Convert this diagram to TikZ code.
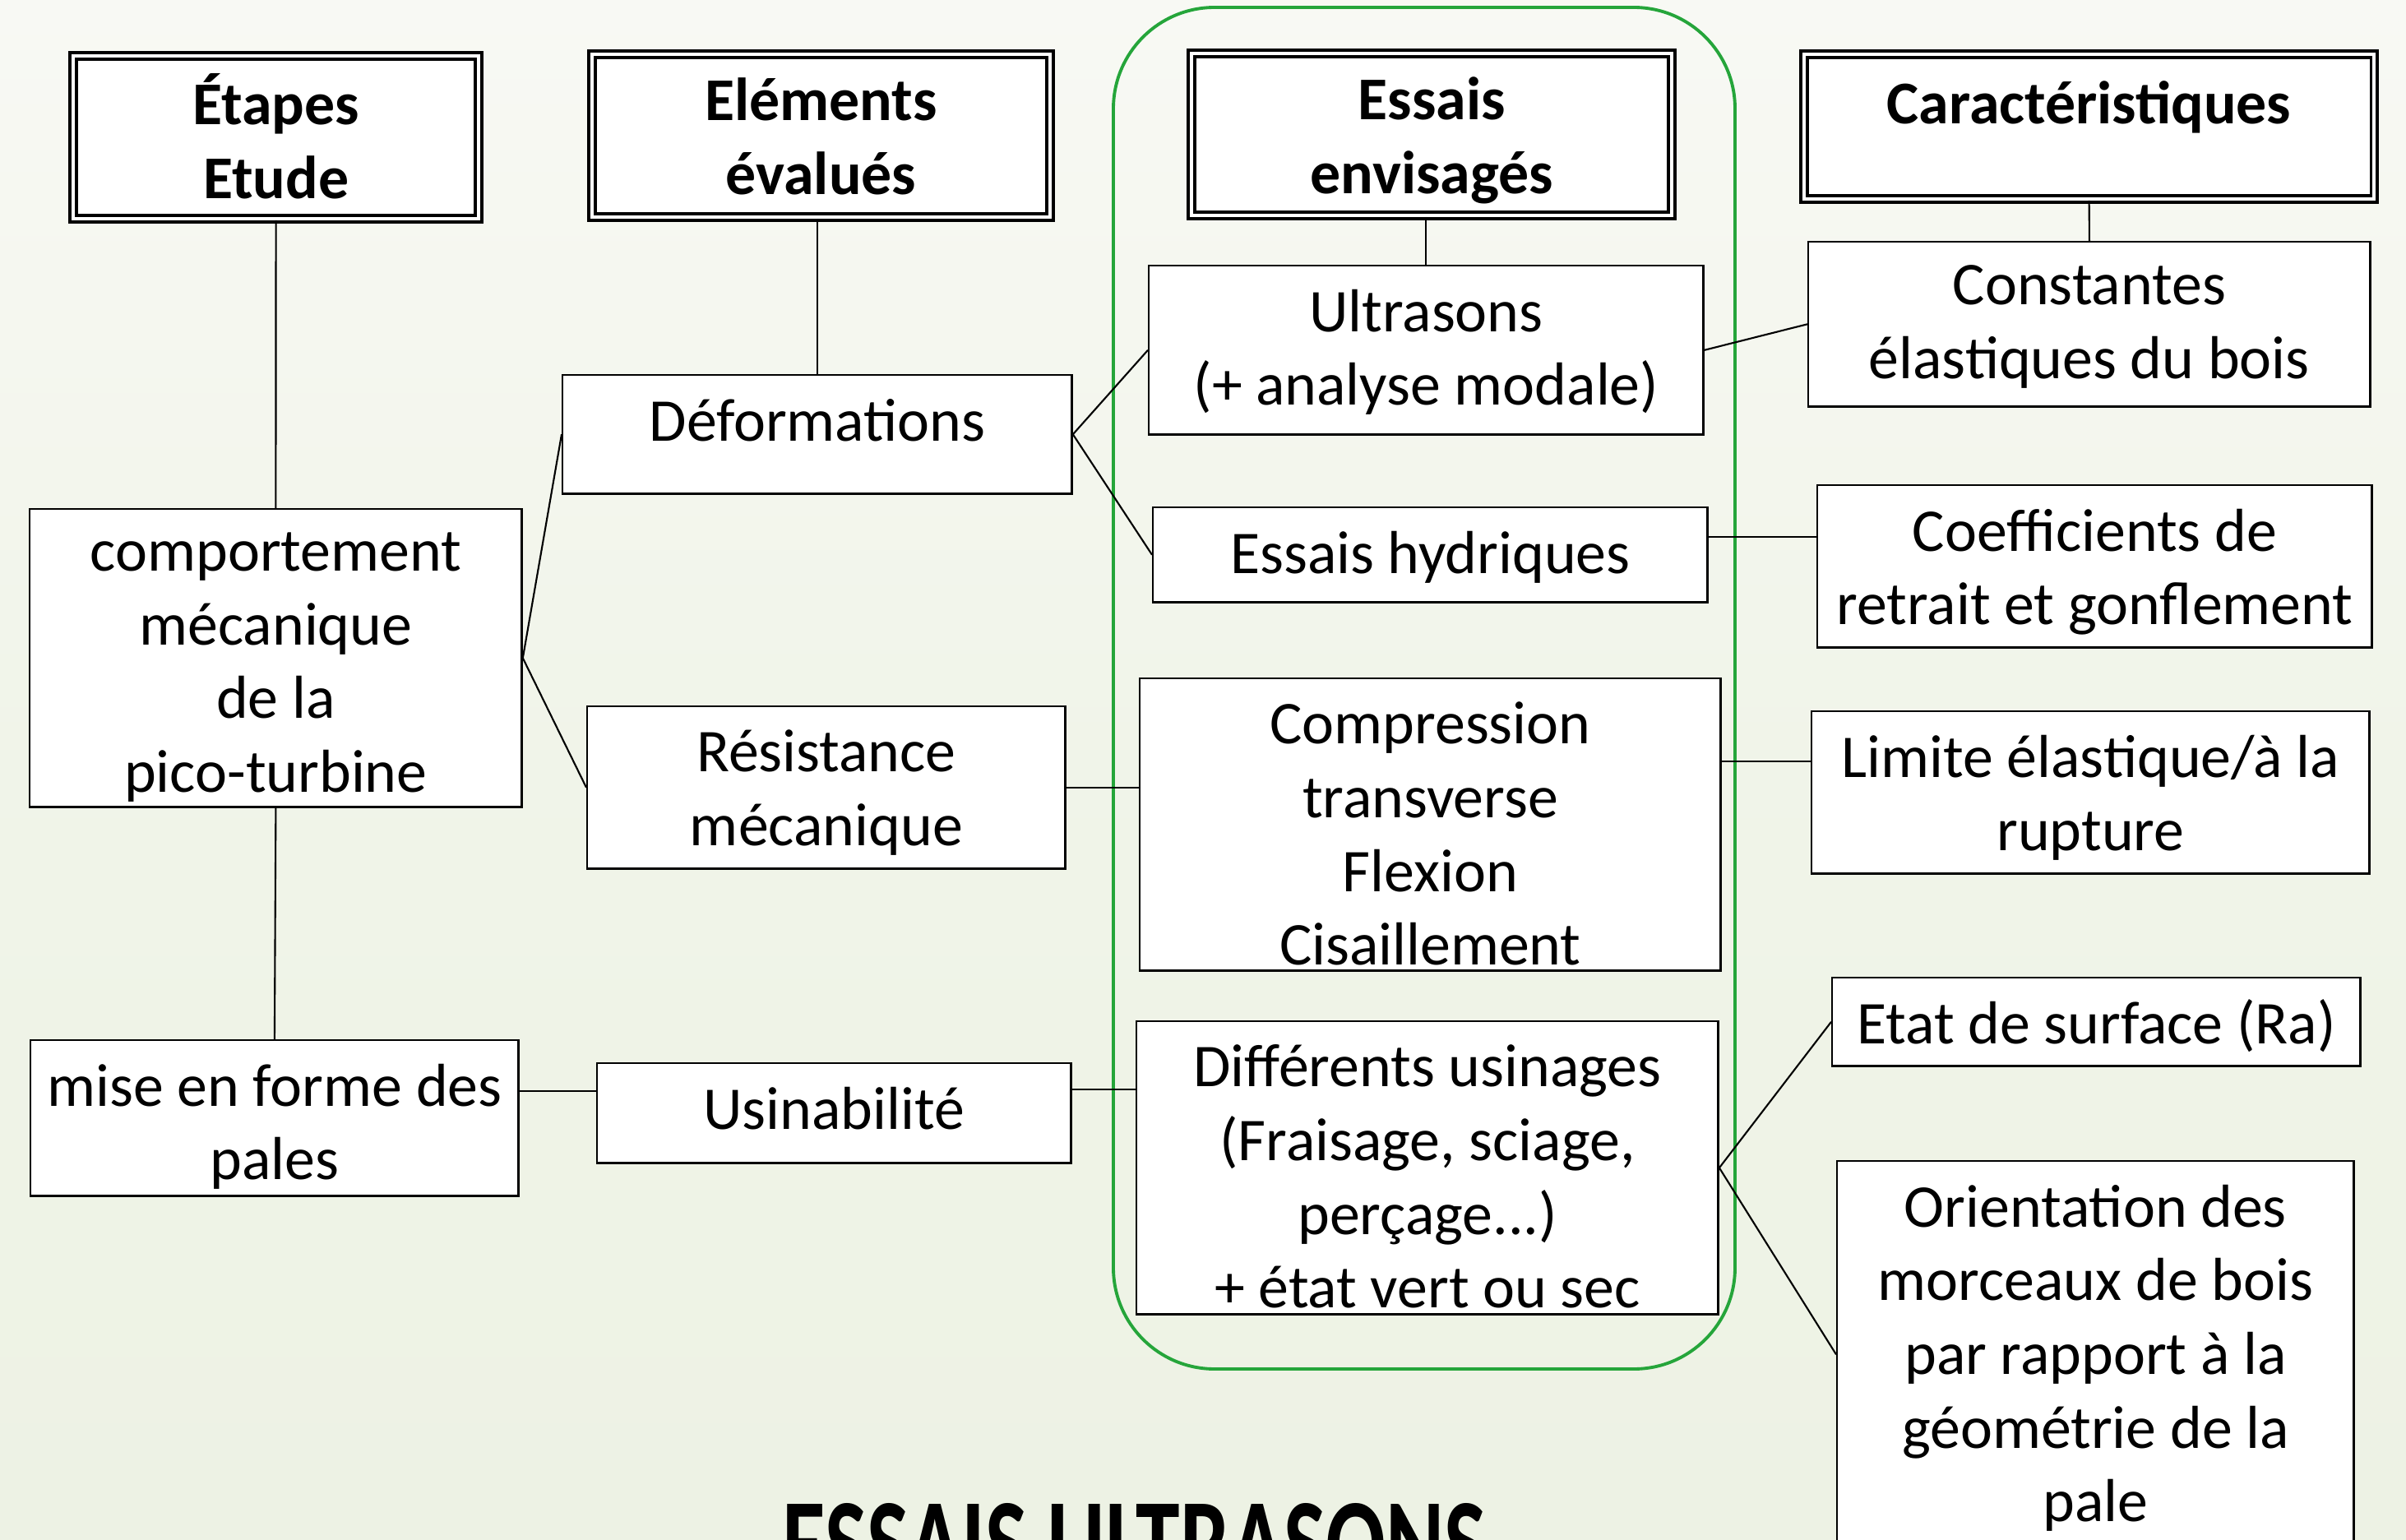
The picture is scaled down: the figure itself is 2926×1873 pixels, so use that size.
\documentclass[tikz,border=0pt]{standalone}
\usepackage{fontspec}
\setmainfont{Carlito}
\usepackage{graphicx}
\definecolor{vert}{HTML}{25A53A}
\definecolor{fondhaut}{HTML}{F8F9F4}
\definecolor{fondbas}{HTML}{EDF2E4}
\begin{document}
\begin{tikzpicture}[x=0.01cm, y=-0.01cm,
    boite/.style={draw, fill=white, anchor=north west, inner sep=0pt, line width=0.7pt},
    entete/.style={draw, fill=white, anchor=north west, inner sep=0pt, double, line width=1.1pt, double distance=1.1pt},
    texte/.style={anchor=north, align=center, inner sep=0pt, yshift=-8.3pt, font=\fontsize{21}{25.5}\selectfont, execute at begin node=\strut},
    texte1/.style={anchor=north, align=center, inner sep=0pt, yshift=-5.1pt, font=\fontsize{21}{25.5}\selectfont, execute at begin node=\strut},
    texteg/.style={anchor=north, align=center, inner sep=0pt, yshift=-8.6pt, font=\fontsize{21}{25.5}\selectfont\bfseries, execute at begin node=\strut},
    lien/.style={line width=0.6pt},
  ]
    \useasboundingbox (0,0) rectangle (2926,1873);
    \clip (0,0) rectangle (2926,1873);
    \shade[top color=fondhaut, bottom color=fondbas, middle color=fondbas!70!fondhaut] (0,0) rectangle (2926,1873);

    % cadre des essais
    \draw[vert, line width=1.1pt, rounded corners=1.23cm] (1354,9) rectangle (2110,1665);

    % en-tetes
    \node[entete, minimum width=4.93cm, minimum height=1.98cm, label={[texteg, yshift=2pt]north:Étapes\\Etude}] (etapes) at (87,66) {};
    \node[entete, minimum width=5.57cm, minimum height=1.98cm, label={[texteg]north:Eléments\\évalués}] (elem) at (718,64) {};
    \node[entete, minimum width=5.84cm, minimum height=1.97cm, label={[texteg]north:Essais\\envisagés}] (essais) at (1447,63) {};
    \node[entete, minimum width=6.93cm, minimum height=1.76cm, label={[texteg, yshift=2pt]north:Caractéristiques}] (carac) at (2192,64) {};

    % etapes
    \node[boite, minimum width=5.98cm, minimum height=3.62cm, label={[texte]north:comportement\\mécanique\\de la\\pico-turbine}] (comp) at (35,618) {};
    \node[boite, minimum width=5.93cm, minimum height=1.89cm, label={[texte]north:mise en forme des\\pales}] (mise) at (36,1264) {};

    % elements
    \node[boite, minimum width=6.19cm, minimum height=1.44cm, label={[texte1]north:Déformations}] (def) at (683,455) {};
    \node[boite, minimum width=5.81cm, minimum height=1.97cm, label={[texte]north:Résistance\\mécanique}] (resist) at (713,858) {};
    \node[boite, minimum width=5.76cm, minimum height=1.21cm, label={[texte1]north:Usinabilité}] (usin) at (725,1292) {};

    % essais
    \node[boite, minimum width=6.74cm, minimum height=2.05cm, label={[texte]north:Ultrasons\\(+ analyse modale)}] (ultra) at (1396,322) {};
    \node[boite, minimum width=6.74cm, minimum height=1.15cm, label={[texte1]north:Essais hydriques}] (hydr) at (1401,616) {};
    \node[boite, minimum width=7.06cm, minimum height=3.55cm, label={[texte]north:Compression\\transverse\\Flexion\\Cisaillement}] (compr) at (1385,824) {};
    \node[boite, minimum width=7.07cm, minimum height=3.56cm, label={[texte]north:Différents usinages\\(Fraisage, sciage,\\perçage...)\\+ état vert ou sec}] (diff) at (1381,1241) {};

    % caracteristiques
    \node[boite, minimum width=6.83cm, minimum height=2.00cm, label={[texte]north:Constantes\\élastiques du bois}] (const) at (2198,293) {};
    \node[boite, minimum width=6.74cm, minimum height=1.97cm, label={[texte]north:Coefficients de\\retrait et gonflement}] (coef) at (2209,589) {};
    \node[boite, minimum width=6.78cm, minimum height=1.97cm, label={[texte]north:Limite élastique/à la\\rupture}] (limite) at (2202,864) {};
    \node[boite, minimum width=6.42cm, minimum height=1.07cm, label={[texte1]north:Etat de surface (Ra)}] (etat) at (2227,1188) {};
    \node[boite, minimum width=6.28cm, minimum height=4.70cm, label={[texte]north:Orientation des\\morceaux de bois\\par rapport à la\\géométrie de la\\pale}] (orient) at (2233,1411) {};

    % liens
    \draw[lien] (etapes.south) -- (comp.north);
    \draw[lien] (comp.south) -- (mise.north);
    \draw[lien] (def.north |- elem.south) -- (def.north);
    \draw[lien] (ultra.north |- essais.south) -- (ultra.north);
    \draw[lien] (carac.south) -- (const.north);
    \draw[lien] (comp.east) -- (def.west);
    \draw[lien] (comp.east) -- (resist.west);
    \draw[lien] (def.east) -- (ultra.west);
    \draw[lien] (def.east) -- (hydr.west);
    \draw[lien] (resist.east) -- (resist.east -| compr.west);
    \draw[lien] (mise.east |- 0,1327) -- (usin.west |- 0,1327);
    \draw[lien] (usin.east |- 0,1325) -- (diff.west |- 0,1325);
    \draw[lien] (ultra.east) -- (const.west);
    \draw[lien] (hydr.east |- 0,653) -- (coef.west |- 0,653);
    \draw[lien] (compr.east |- 0,926) -- (limite.west |- 0,926);
    \draw[lien] (diff.east) -- (etat.west);
    \draw[lien] (diff.east) -- (orient.west);

    \node[anchor=north west, inner sep=0pt] (titre) at (951,1828) {\resizebox{8.55cm}{1cm}{\bfseries ESSAIS ULTRASONS}};
  \end{tikzpicture}
\end{document}
